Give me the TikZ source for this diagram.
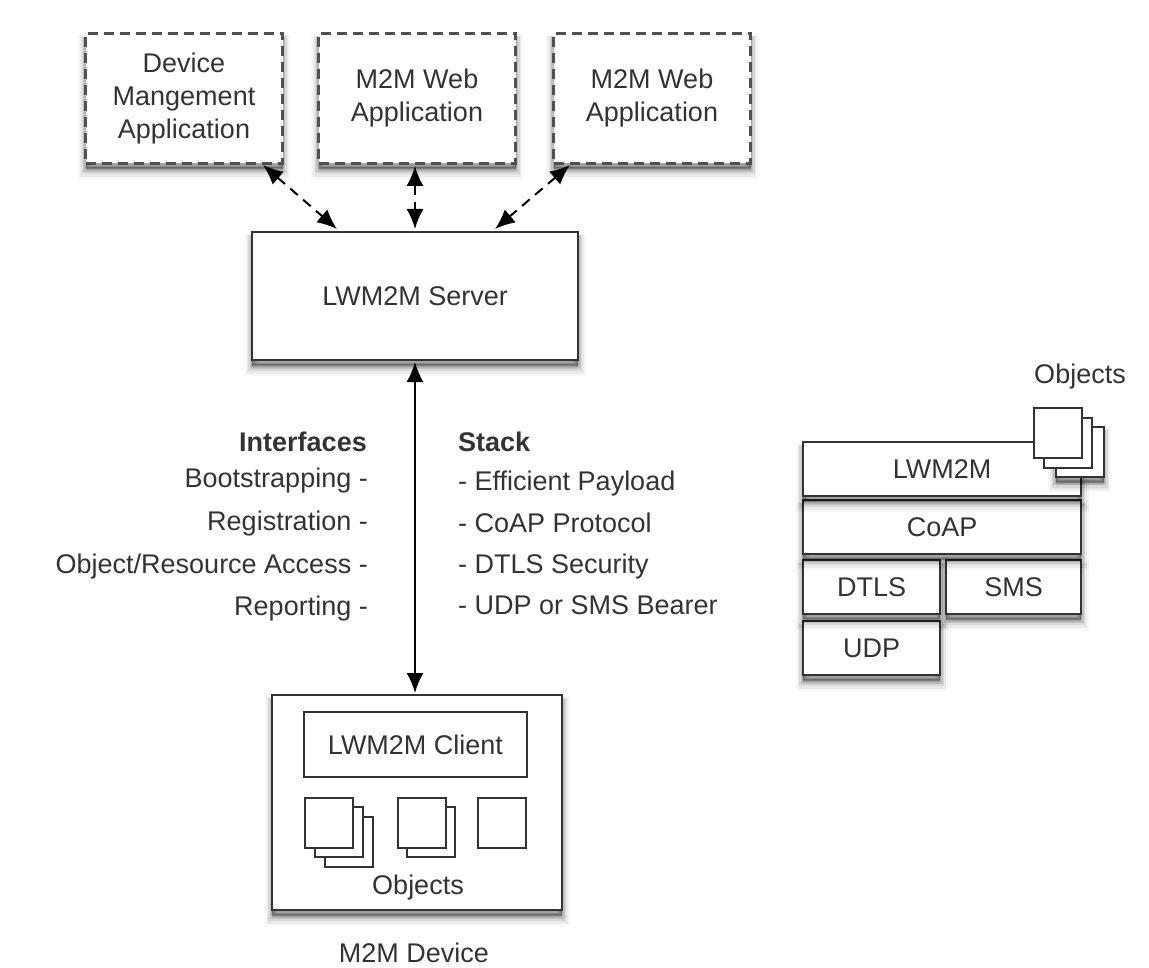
\documentclass[tikz,border=0pt]{standalone}
\usepackage{fontspec}
\setmainfont{Liberation Sans}
\usetikzlibrary{arrows.meta,shadows,calc}
\definecolor{ink}{HTML}{333333}
\definecolor{dashink}{HTML}{505050}
\tikzset{
  softshadow/.style={
    general shadow={shadow yshift=-8pt,fill=black,draw=black,solid,line width=15pt,opacity=.03},
    general shadow={shadow yshift=-8pt,fill=black,draw=black,solid,line width=11pt,opacity=.05},
    general shadow={shadow yshift=-7pt,fill=black,draw=black,solid,line width=8pt,opacity=.08},
    general shadow={shadow yshift=-6pt,fill=black,draw=black,solid,line width=5pt,opacity=.10},
    general shadow={shadow yshift=-5pt,fill=black,draw=black,solid,line width=2pt,opacity=.14}},
  boxstyle/.style={draw=ink,line width=2.4pt,fill=white,align=center,text=ink,font=\fontsize{27}{33}\selectfont,inner sep=0pt,anchor=north west},
  mainbox/.style={boxstyle,softshadow},
  dashbox/.style={mainbox,draw=dashink,line width=3pt,dash pattern=on 10pt off 6pt},
  objbox/.style={draw=ink,line width=1.8pt,fill=white,minimum width=48pt,minimum height=50pt,inner sep=0pt,anchor=north west},
  labeltext/.style={text=ink,font=\fontsize{27}{33}\selectfont,inner sep=0pt,align=center},
  rlabel/.style={labeltext,anchor=east},
  llabel/.style={labeltext,anchor=west},
  link/.style={draw=black,line width=2pt,{Latex[length=20pt,width=17pt]}-{Latex[length=20pt,width=17pt]}},
  dashlink/.style={link,dash pattern=on 10pt off 7pt},
}
\begin{document}
\begin{tikzpicture}[x=1pt,y=-1pt]
\useasboundingbox (1,1) rectangle (1150,969);
% top applications
\node[dashbox,minimum width=197pt,minimum height=130pt] (dev) at (85,33) {Device\\Mangement\\Application};
\node[dashbox,minimum width=197pt,minimum height=130pt] (web1) at (318,33) {M2M Web\\Application};
\node[dashbox,minimum width=197pt,minimum height=130pt] (web2) at (553,33) {M2M Web\\Application};
% server
\node[mainbox,minimum width=326pt,minimum height=128pt] (server) at (252,232) {LWM2M Server};
% device
\node[mainbox,minimum width=290pt,minimum height=215pt] (device) at (272,695) {};
\node[boxstyle,minimum width=223pt,minimum height=65pt,line width=2pt] (client) at (304,712) {LWM2M Client};
\node[objbox] (a3) at (325,817) {};
\node[objbox] (a2) at (315,807) {};
\node[objbox] (a1) at (305,798) {};
\node[objbox] (b2) at (407,807) {};
\node[objbox] (b1) at (398,798) {};
\node[objbox] (c1) at (478,798) {};
\node[labeltext] (objlabel) at (419,889) {Objects};
\node[labeltext] (devlabel) at (415,954) {M2M Device};
% connectors
\coordinate (d1) at (264,166);
\coordinate (s1) at (338,230);
\coordinate (d2) at (416,167);
\coordinate (s2) at (416,230);
\coordinate (d3) at (571,166);
\coordinate (s3) at (496,230);
\draw[dashlink] (d1) -- (s1);
\draw[dashlink] (d2) -- (s2);
\draw[dashlink] (d3) -- (s3);
\coordinate (sv) at (416,363);
\coordinate (dv) at (416,694);
\draw[link] (sv) -- (dv);
% left labels
\node[rlabel,font=\fontsize{27}{33}\selectfont\bfseries] (ifh) at (368,443) {Interfaces};
\node[rlabel] (if1) at (369,482) {Bootstrapping -};
\node[rlabel] (if2) at (369,525) {Registration -};
\node[rlabel] (if3) at (369,568) {Object/Resource Access -};
\node[rlabel] (if4) at (369,610) {Reporting -};
% right labels
\node[llabel,font=\fontsize{27}{33}\selectfont\bfseries] (sth) at (459,443) {Stack};
\node[llabel] (st1) at (459,485) {- Efficient Payload};
\node[llabel] (st2) at (459,524) {- CoAP Protocol};
\node[llabel] (st3) at (459,568) {- DTLS Security};
\node[llabel] (st4) at (459,606) {- UDP or SMS Bearer};
% stack
\node[mainbox,minimum width=137pt,minimum height=54pt] (udp) at (803,621) {UDP};
\node[mainbox,minimum width=137pt,minimum height=54pt] (dtls) at (803,560) {DTLS};
\node[mainbox,minimum width=135pt,minimum height=54pt] (sms) at (946,560) {SMS};
\node[mainbox,minimum width=278pt,minimum height=54pt] (coap) at (803,500) {CoAP};
\node[mainbox,minimum width=278pt,minimum height=54pt] (lw) at (803,442) {LWM2M};
\node[objbox,softshadow] (o3) at (1056,427) {};
\node[objbox] (o2) at (1044,418) {};
\node[objbox] (o1) at (1034,408) {};
\node[labeltext] (olabel) at (1081,378) {Objects};
\end{tikzpicture}
\end{document}
